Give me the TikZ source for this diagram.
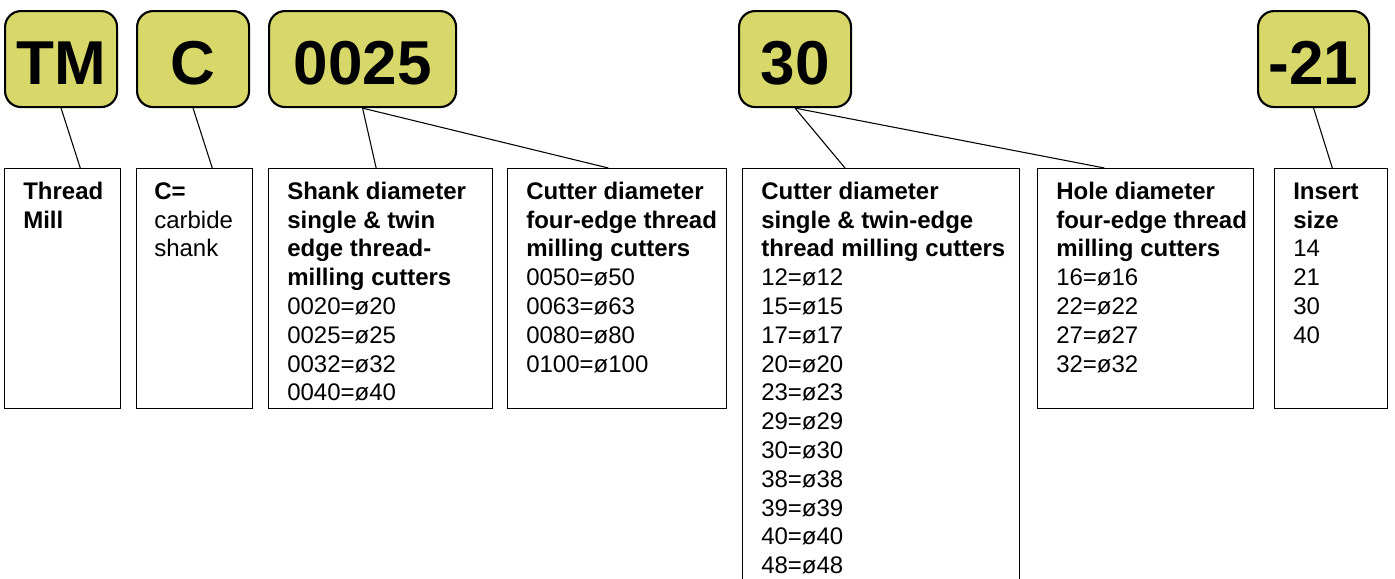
\documentclass[tikz,border=0pt]{standalone}
\usepackage{fontspec}
\setmainfont{Liberation Sans}
\usetikzlibrary{calc}
\definecolor{codefill}{RGB}{216,216,106}
\tikzset{
  codebox/.style={draw, line width=1.6pt, fill=codefill, rounded corners=12pt,
    anchor=north west, inner sep=0pt, minimum height=72pt,
    font=\fontsize{46.5pt}{50pt}\selectfont\bfseries,
    text height=37.5pt, text depth=0pt},
  infobox/.style={draw, line width=1pt, anchor=north west, inner sep=0pt,
    minimum height=180pt},
  infotext/.style={anchor=north west, inner sep=0pt, align=left,
    font=\fontsize{18pt}{21.6pt}\selectfont},
  conn/.style={line width=0.8pt}
}
\begin{document}
\begin{tikzpicture}[x=0.75pt, y=-0.75pt]
  \useasboundingbox (0,0) rectangle (1395,578);
  \clip (0,0) rectangle (1395,578);

  % code segments
  \node[codebox, minimum width=84pt]     (tm)  at (4,10)    {TM};
  \node[codebox, minimum width=84pt]     (cc)  at (136,10)  {C};
  \node[codebox, minimum width=140.25pt] (sz)  at (268,10)  {0025};
  \node[codebox, minimum width=84pt]     (dia) at (738,10)  {30};
  \node[codebox, minimum width=83.25pt]  (ins) at (1257,10) {-21};

  % explanation boxes
  \node[infobox, minimum width=87pt]     (thread)  at (4,168)    {};
  \node[infobox, minimum width=87pt]     (carbide) at (136,168)  {};
  \node[infobox, minimum width=168pt]    (shank)   at (268,168)  {};
  \node[infobox, minimum width=164.25pt] (four)    at (507,168)  {};
  \node[infobox, minimum width=207.75pt, minimum height=322.5pt] (twin) at (742,168) {};
  \node[infobox, minimum width=162pt]    (hole)    at (1037,168) {};
  \node[infobox, minimum width=84.75pt]  (insert)  at (1274,168) {};

  % texts
  \node[infotext] (tthread) at ($(thread.north west)+(19,10.8)$)
    {\strut\textbf{Thread}\\\textbf{Mill}};
  \node[infotext] (tcarbide) at ($(carbide.north west)+(18,10.8)$)
    {\strut\textbf{C=}\\carbide\\shank};
  \node[infotext] (tshank) at ($(shank.north west)+(19,10.8)$)
    {\strut\textbf{Shank diameter}\\\textbf{single \& twin}\\\textbf{edge thread-}\\\textbf{milling cutters}\\
     0020=ø20\\0025=ø25\\0032=ø32\\0040=ø40};
  \node[infotext] (tfour) at ($(four.north west)+(19,10.8)$)
    {\strut\textbf{Cutter diameter}\\\textbf{four-edge thread}\\\textbf{milling cutters}\\
     0050=ø50\\0063=ø63\\0080=ø80\\0100=ø100};
  \node[infotext] (ttwin) at ($(twin.north west)+(19,10.8)$)
    {\strut\textbf{Cutter diameter}\\\textbf{single \& twin-edge}\\\textbf{thread milling cutters}\\
     12=ø12\\15=ø15\\17=ø17\\20=ø20\\23=ø23\\29=ø29\\30=ø30\\38=ø38\\39=ø39\\40=ø40\\48=ø48};
  \node[infotext] (thole) at ($(hole.north west)+(19,10.8)$)
    {\strut\textbf{Hole diameter}\\\textbf{four-edge thread}\\\textbf{milling cutters}\\
     16=ø16\\22=ø22\\27=ø27\\32=ø32};
  \node[infotext] (tinsert) at ($(insert.north west)+(19,10.8)$)
    {\strut\textbf{Insert}\\\textbf{size}\\14\\21\\30\\40};

  % connectors
  \draw[conn] (tm.south)  -- ($(thread.north west)!0.65!(thread.north east)$);
  \draw[conn] (cc.south)  -- ($(carbide.north west)!0.65!(carbide.north east)$);
  \draw[conn] (sz.south)  -- ($(shank.north west)!0.48!(shank.north east)$);
  \draw[conn] (sz.south)  -- ($(four.north west)!0.46!(four.north east)$);
  \draw[conn] (dia.south) -- ($(twin.north west)!0.37!(twin.north east)$);
  \draw[conn] (dia.south) -- ($(hole.north west)!0.31!(hole.north east)$);
  \draw[conn] (ins.south) -- ($(insert.north west)!0.51!(insert.north east)$);
\end{tikzpicture}
\end{document}
